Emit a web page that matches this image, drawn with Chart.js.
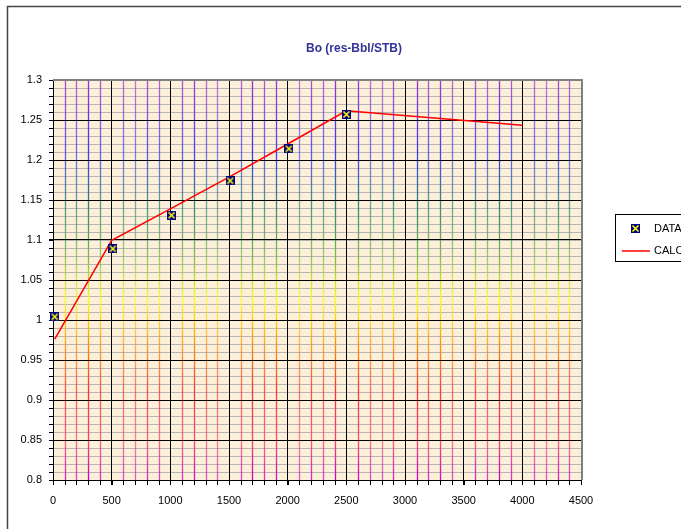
<!DOCTYPE html>
<html>
<head>
<meta charset="utf-8">
<script src="https://cdn.jsdelivr.net/npm/chart.js@4.4.1/dist/chart.umd.min.js"></script>
<style>
html,body{margin:0;padding:0;background:#fff;}
#wrap{position:relative;width:681px;height:529px;}
</style>
</head>
<body>
<div id="wrap"><canvas id="c" width="681" height="529"></canvas></div>
<script>
// ---- data ----
const chartTitle = "Bo (res-Bbl/STB)";
const seriesNames = ["DATA", "CALC"];
const dataPressure = [14.7, 510, 1010, 1510, 2010, 2500];
const dataBo = [1.004, 1.089, 1.131, 1.174, 1.214, 1.257];
const calcPressure = [14.7, 500, 1000, 1500, 2000, 2500, 4000];
const calcBo = [0.976, 1.0995, 1.139, 1.1785, 1.220, 1.2615, 1.2435];
const xTicks = [0, 500, 1000, 1500, 2000, 2500, 3000, 3500, 4000, 4500];
const xTickLabels = ["0", "500", "1000", "1500", "2000", "2500", "3000", "3500", "4000", "4500"];
const yTicks = [0.8, 0.85, 0.9, 0.95, 1.0, 1.05, 1.1, 1.15, 1.2, 1.25, 1.3];
const yTickLabels = ["0.8", "0.85", "0.9", "0.95", "1", "1.05", "1.1", "1.15", "1.2", "1.25", "1.3"];
const xMinorStep = 100;
const yMinorStep = 0.01;

const FONT = "'Liberation Sans', Arial, sans-serif";

// marker: navy square with yellow X
function makeMarker() {
  const m = document.createElement('canvas');
  m.width = 9; m.height = 9;
  const g = m.getContext('2d');
  g.fillStyle = '#000080';
  g.fillRect(0, 0, 9, 9);
  g.strokeStyle = '#ffff00';
  g.lineWidth = 1.6;
  g.beginPath();
  g.moveTo(1.5, 1.5); g.lineTo(7.5, 7.5);
  g.moveTo(7.5, 1.5); g.lineTo(1.5, 7.5);
  g.stroke();
  return m;
}
const marker = makeMarker();

const decorPlugin = {
  id: 'decor',
  beforeDraw(chart) {
    const ctx = chart.ctx;
    const a = chart.chartArea;
    const xs = chart.scales.x, ys = chart.scales.y;
    ctx.save();
    ctx.fillStyle = '#ffffff';
    ctx.fillRect(0, 0, chart.width, chart.height);
    // outer frame
    ctx.strokeStyle = '#444';
    ctx.lineWidth = 1.5;
    ctx.beginPath();
    ctx.moveTo(7.5, chart.height + 2);
    ctx.lineTo(7.5, 6.5);
    ctx.lineTo(chart.width + 2, 6.5);
    ctx.stroke();
    // plot background
    ctx.fillStyle = '#fcf0da';
    ctx.fillRect(a.left, a.top, a.right - a.left, a.bottom - a.top);
    // minor horizontal lines
    ctx.strokeStyle = '#b8b4b0';
    ctx.lineWidth = 1;
    for (let v = ys.min + yMinorStep; v < ys.max - 1e-9; v += yMinorStep) {
      const y = Math.round(ys.getPixelForValue(v)) + 0.5;
      ctx.beginPath(); ctx.moveTo(a.left, y); ctx.lineTo(a.right, y); ctx.stroke();
    }
    // minor vertical coloured lines
    const grad = ctx.createLinearGradient(0, a.top, 0, a.bottom);
    grad.addColorStop(0.0, '#a030d0');
    grad.addColorStop(0.18, '#3a3aff');
    grad.addColorStop(0.32, '#2a8a70');
    grad.addColorStop(0.45, '#80c040');
    grad.addColorStop(0.55, '#ffff00');
    grad.addColorStop(0.65, '#ff9a00');
    grad.addColorStop(0.78, '#ff3030');
    grad.addColorStop(0.9, '#ff4070');
    grad.addColorStop(1.0, '#cc00cc');
    ctx.strokeStyle = grad;
    ctx.lineWidth = 1.3;
    const alphas = [0.65, 0.85, 0.75, 1.0, 0.8, 0.95, 0.7];
    let i = 0;
    for (let v = xs.min + xMinorStep; v < xs.max - 1e-9; v += xMinorStep) {
      i++;
      if (Math.abs(v / 500 - Math.round(v / 500)) < 1e-9) continue;
      const x = Math.round(xs.getPixelForValue(v)) + 0.5;
      ctx.globalAlpha = alphas[i % alphas.length];
      ctx.beginPath(); ctx.moveTo(x, a.top); ctx.lineTo(x, a.bottom); ctx.stroke();
    }
    ctx.globalAlpha = 1;
    // minor tick marks
    ctx.strokeStyle = '#000';
    ctx.lineWidth = 1;
    for (let v = xs.min; v <= xs.max + 1e-9; v += xMinorStep) {
      const x = Math.round(xs.getPixelForValue(v)) + 0.5;
      ctx.beginPath(); ctx.moveTo(x, a.bottom); ctx.lineTo(x, a.bottom + 5); ctx.stroke();
    }
    for (let v = ys.min; v <= ys.max + 1e-9; v += yMinorStep) {
      const y = Math.round(ys.getPixelForValue(v)) + 0.5;
      ctx.beginPath(); ctx.moveTo(a.left - 4, y); ctx.lineTo(a.left, y); ctx.stroke();
    }
    ctx.restore();
  },
  beforeDatasetsDraw(chart) {
    const ctx = chart.ctx;
    const a = chart.chartArea;
    ctx.save();
    ctx.strokeStyle = '#808080';
    ctx.lineWidth = 2;
    ctx.beginPath();
    ctx.moveTo(a.left, a.top);
    ctx.lineTo(a.right + 1, a.top);
    ctx.lineTo(a.right + 1, a.bottom);
    ctx.stroke();
    ctx.restore();
  },
  afterDraw(chart) {
    const ctx = chart.ctx;
    ctx.save();
    // title
    ctx.fillStyle = '#333399';
    ctx.font = 'bold 12px ' + FONT;
    ctx.textAlign = 'center';
    ctx.textBaseline = 'middle';
    ctx.fillText(chartTitle, 354, 49);
    // legend
    ctx.strokeStyle = '#000';
    ctx.lineWidth = 1;
    ctx.strokeRect(615.5, 214.5, 80, 47);
    ctx.drawImage(marker, 631, 224);
    ctx.strokeStyle = '#ff0000';
    ctx.lineWidth = 1.5;
    ctx.beginPath(); ctx.moveTo(622, 251); ctx.lineTo(650, 251); ctx.stroke();
    ctx.fillStyle = '#000';
    ctx.font = '11px ' + FONT;
    ctx.textAlign = 'left';
    ctx.fillText(seriesNames[0], 654, 229);
    ctx.fillText(seriesNames[1], 654, 251);
    ctx.restore();
  }
};

new Chart(document.getElementById('c'), {
  type: 'scatter',
  data: {
    datasets: [
      {
        label: seriesNames[0],
        data: dataPressure.map((p, i) => ({x: p, y: dataBo[i]})),
        pointStyle: marker,
        pointRadius: 4.5,
        showLine: false,
        clip: false,
        order: 0
      },
      {
        label: seriesNames[1],
        data: calcPressure.map((p, i) => ({x: p, y: calcBo[i]})),
        showLine: true,
        borderColor: '#ff0000',
        borderWidth: 1.5,
        pointRadius: 0,
        tension: 0,
        order: 1
      }
    ]
  },
  options: {
    responsive: false,
    animation: false,
    devicePixelRatio: 1,
    layout: {padding: {left: 0, right: 100, top: 80, bottom: 0}},
    plugins: {legend: {display: false}, title: {display: false}, tooltip: {enabled: false}},
    scales: {
      x: {
        type: 'linear', min: 0, max: 4500,
        afterBuildTicks: s => { s.ticks = xTicks.map(v => ({value: v})); },
        afterFit: s => { s.height = 49; },
        ticks: {
          callback: (v) => xTickLabels[xTicks.indexOf(v)] ?? '',
          color: '#000', font: {family: FONT, size: 11}, padding: 9, maxRotation: 0, autoSkip: false
        },
        grid: {
          color: c => (c.tick && c.tick.value === 4500) ? 'rgba(0,0,0,0)' : '#000',
          lineWidth: 1, drawTicks: true, tickLength: 5, tickColor: '#000'
        },
        border: {display: true, color: '#000', width: 1}
      },
      y: {
        type: 'linear', min: 0.8, max: 1.3,
        afterBuildTicks: s => { s.ticks = yTicks.map(v => ({value: v})); },
        afterFit: s => { s.width = 53; },
        ticks: {
          callback: (v) => { const k = yTicks.findIndex(t => Math.abs(t - v) < 1e-9); return k >= 0 ? yTickLabels[k] : ''; },
          color: '#000', font: {family: FONT, size: 11}, padding: 7, autoSkip: false
        },
        grid: {
          color: c => (c.tick && Math.abs(c.tick.value - 1.3) < 1e-9) ? 'rgba(0,0,0,0)' : '#000',
          lineWidth: 1, drawTicks: true, tickLength: 4, tickColor: '#000'
        },
        border: {display: true, color: '#000', width: 1}
      }
    }
  },
  plugins: [decorPlugin]
});
</script>
</body>
</html>
